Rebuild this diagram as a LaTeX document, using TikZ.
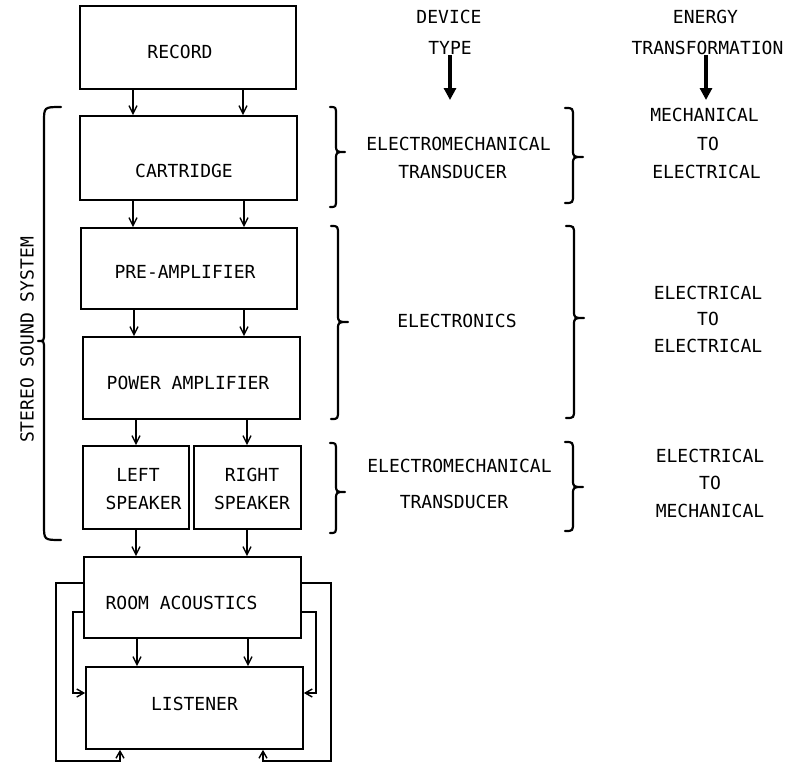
\documentclass[tikz,border=0pt]{standalone}
\usepackage{fontspec}
\setmonofont{DejaVu Sans Mono}
\usetikzlibrary{arrows.meta}
\tikzset{
  blk/.style={draw,line width=1.7pt,rectangle,inner sep=0pt},
  lbl/.style={font=\ttfamily\fontsize{18}{20}\selectfont,inner sep=0pt,anchor=center},
  arr/.style={line width=1.5pt,-{Straight Barb[length=8pt,width=8pt,line width=1.4pt]}},
  fb/.style={line width=1.6pt,-{Straight Barb[length=7pt,width=8pt,line width=1.4pt]}},
  bigarr/.style={line width=4pt,-{Triangle[length=12pt,width=12pt]}},
  brc/.style={line width=2.2pt,line cap=round,line join=round}
}
% brace: #1 end x, #2 spine offset, #3 tip offset, #4 top y, #5 tip y, #6 bottom y, #7 end radius
\newcommand\mybrace[7]{%
  \draw[brc] (#1,#4) .. controls ({#1+#2},#4) .. ({#1+#2},{#4+#7})
    -- ({#1+#2},{#5-8}) .. controls ({#1+#2},#5) .. ({#1+#2+#3},#5)
    .. controls ({#1+#2},#5) .. ({#1+#2},{#5+8})
    -- ({#1+#2},{#6-#7}) .. controls ({#1+#2},#6) .. (#1,#6);}
\begin{document}
\begin{tikzpicture}[x=1pt,y=-1pt]
\useasboundingbox (0,0) rectangle (804,764);
% boxes
\node[blk,minimum width=216pt,minimum height=83pt] (record) at (188,47.5) {};
\node[blk,minimum width=217pt,minimum height=84pt] (cart) at (188.5,158) {};
\node[blk,minimum width=216pt,minimum height=81pt] (pre) at (189,268.5) {};
\node[blk,minimum width=217pt,minimum height=82pt] (power) at (191.5,378) {};
\node[blk,minimum width=106pt,minimum height=83pt] (lspk) at (136,487.5) {};
\node[blk,minimum width=107pt,minimum height=83pt] (rspk) at (247.5,487.5) {};
\node[blk,minimum width=217pt,minimum height=81pt] (room) at (192.5,597.5) {};
\node[blk,minimum width=217pt,minimum height=82pt] (listener) at (194.5,708) {};
% box labels
\node[lbl] (trecord) at (180,51.5) {RECORD};
\node[lbl] (tcart) at (184,171) {CARTRIDGE};
\node[lbl] (tpre) at (185,272) {PRE-AMPLIFIER};
\node[lbl] (tpower) at (188,383) {POWER AMPLIFIER};
\node[lbl] (tleft) at (138,475) {LEFT};
\node[lbl] (tlspk) at (143.5,502.5) {SPEAKER};
\node[lbl] (tright) at (252,475) {RIGHT};
\node[lbl] (trspk) at (252,502.5) {SPEAKER};
\node[lbl] (troom) at (181.5,603) {ROOM ACOUSTICS};
\node[lbl] (tlist) at (194.5,703.5) {LISTENER};
% signal arrows
\foreach \a/\b/\s in {record/cart/55,cart/pre/55.5,pre/power/55,room/listener/55.5}{
  \draw[arr] ([xshift=-\s pt]\a.south) -- ([xshift=-\s pt]\a.south |- \b.north);
  \draw[arr] ([xshift=\s pt]\a.south) -- ([xshift=\s pt]\a.south |- \b.north);
}
\draw[arr] ([xshift=-55.5pt]power.south) -- ([xshift=-55.5pt]power.south |- lspk.north);
\draw[arr] ([xshift=55.5pt]power.south) -- ([xshift=55.5pt]power.south |- rspk.north);
\draw[arr] (lspk.south) -- (lspk.south |- room.north);
\draw[arr] ([xshift=-0.5pt]rspk.south) -- ([xshift=-0.5pt]rspk.south |- room.north);
% feedback loops
\coordinate (oL) at (56,761);
\coordinate (oR) at (331,761);
\coordinate (iL) at (73,693);
\coordinate (iR) at (316,693);
\draw[fb] (room.west |- 0,583) -| (oL) -| (listener.south -| 120,0);
\draw[fb] (room.east |- 0,583) -| (oR) -| (listener.south -| 263,0);
\draw[fb] (room.west |- 0,612) -| (iL) -- (iL -| listener.west);
\draw[fb] (room.east |- 0,612) -| (iR) -- (iR -| listener.east);
% left brace and label
\mybrace{61}{-17}{-6}{107}{341}{540}{15}
\node[lbl,rotate=90] (stereo) at (27,340) {STEREO SOUND SYSTEM};
% headers
\node[lbl] (hdev1) at (449,17) {DEVICE};
\node[lbl] (hdev2) at (450,48) {TYPE};
\node[lbl] (hen1) at (705.5,17) {ENERGY};
\node[lbl] (hen2) at (707.5,48) {TRANSFORMATION};
\coordinate (a1) at (450,100);
\coordinate (a2) at (706,100);
\draw[bigarr] (hdev2.south |- 0,55) -- (a1);
\draw[bigarr] (a2 |- 0,55) -- (a2);
% column 1 braces
\mybrace{330}{6}{9}{107}{152}{207}{8}
\mybrace{331}{7}{10}{226}{322}{419}{9}
\mybrace{330}{6}{9}{443}{492}{533}{8}
% column 2 braces
\mybrace{565}{8}{10}{108}{157}{203}{9}
\mybrace{566}{8}{10}{226}{318}{418}{9}
\mybrace{565}{8}{10}{442}{487}{531}{9}
% device type texts
\node[lbl] (d1a) at (458.5,143.5) {ELECTROMECHANICAL};
\node[lbl] (d1b) at (452.5,171.5) {TRANSDUCER};
\node[lbl] (d2) at (457,321) {ELECTRONICS};
\node[lbl] (d3a) at (459.5,466) {ELECTROMECHANICAL};
\node[lbl] (d3b) at (454,501.5) {TRANSDUCER};
% energy texts
\node[lbl] (e1a) at (704.5,115) {MECHANICAL};
\node[lbl] (e1b) at (708,143.5) {TO};
\node[lbl] (e1c) at (706.5,171.5) {ELECTRICAL};
\node[lbl] (e2a) at (708,293) {ELECTRICAL};
\node[lbl] (e2b) at (708,319) {TO};
\node[lbl] (e2c) at (708,346) {ELECTRICAL};
\node[lbl] (e3a) at (710,456) {ELECTRICAL};
\node[lbl] (e3b) at (710,482.5) {TO};
\node[lbl] (e3c) at (710,510.5) {MECHANICAL};
\end{tikzpicture}
\end{document}
